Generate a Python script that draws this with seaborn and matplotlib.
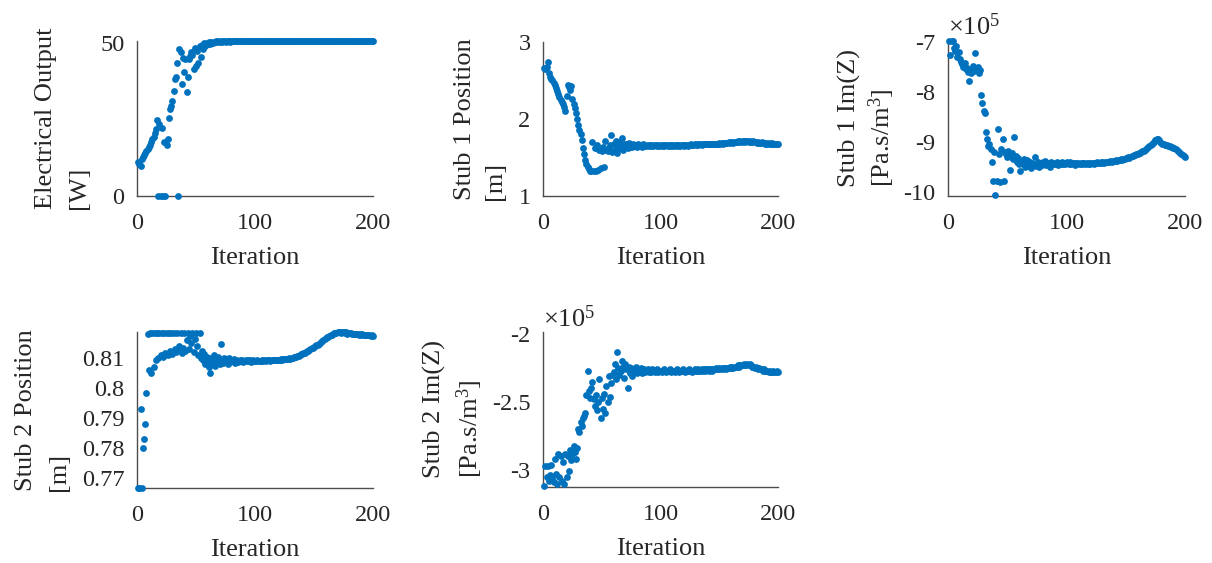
import matplotlib
matplotlib.use('Agg')
import matplotlib.pyplot as plt
import seaborn as sns

# iteration index and the five traces
iteration = list(range(1, 201))

electrical_output_w = [
    11.0, 10.5, 9.8, 12.0, 12.8, 13.4, 14.0, 14.6, 15.3, 16.0,
    16.8, 17.6, 18.5, 19.4, 20.5, 21.8, 25.0, 0.0, 23.4, 0.0,
    22.2, 0.0, 17.8, 0.0, 16.6, 18.6, 25.6, 28.3, 29.5, 31.0,
    34.3, 38.2, 38.8, 43.6, 0.0, 48.0, 47.0, 36.5, 45.0, 40.4,
    44.7, 34.0, 38.8, 44.7, 45.8, 47.0, 46.2, 41.4, 48.5, 42.5,
    47.5, 43.6, 49.0, 45.5, 49.5, 48.0, 50.0, 49.2, 50.2, 49.6,
    50.3, 49.8, 50.4, 50.1, 50.5, 50.3, 50.6, 50.4, 50.6, 50.5,
    50.6, 50.5, 50.6, 50.6, 50.5, 50.6, 50.6, 50.6, 50.5, 50.6,
    50.6, 50.6, 50.6, 50.6, 50.6, 50.6, 50.6, 50.6, 50.6, 50.6,
    50.6, 50.6, 50.6, 50.6, 50.6, 50.6, 50.6, 50.6, 50.6, 50.6,
    50.6, 50.6, 50.6, 50.6, 50.6, 50.6, 50.6, 50.6, 50.6, 50.6,
    50.6, 50.6, 50.6, 50.6, 50.6, 50.6, 50.6, 50.6, 50.6, 50.6,
    50.6, 50.6, 50.6, 50.6, 50.6, 50.6, 50.6, 50.6, 50.6, 50.6,
    50.6, 50.6, 50.6, 50.6, 50.6, 50.6, 50.6, 50.6, 50.6, 50.6,
    50.6, 50.6, 50.6, 50.6, 50.6, 50.6, 50.6, 50.6, 50.6, 50.6,
    50.6, 50.6, 50.6, 50.6, 50.6, 50.6, 50.6, 50.6, 50.6, 50.6,
    50.6, 50.6, 50.6, 50.6, 50.6, 50.6, 50.6, 50.6, 50.6, 50.6,
    50.6, 50.6, 50.6, 50.6, 50.6, 50.6, 50.6, 50.6, 50.6, 50.6,
    50.6, 50.6, 50.6, 50.6, 50.6, 50.6, 50.6, 50.6, 50.6, 50.6,
    50.6, 50.6, 50.6, 50.6, 50.6, 50.6, 50.6, 50.6, 50.6, 50.6,
]

stub1_position_m = [
    2.66, 2.65, 2.67, 2.74, 2.60, 2.55, 2.52, 2.50, 2.47, 2.44,
    2.40, 2.36, 2.32, 2.28, 2.25, 2.22, 2.20, 2.16, 2.10, 2.30,
    2.44, 2.41, 2.38, 2.43, 2.26, 2.20, 2.14, 2.08, 2.00, 1.92,
    1.86, 1.80, 1.73, 1.62, 1.55, 1.47, 1.42, 1.38, 1.35, 1.33,
    1.32, 1.70, 1.33, 1.62, 1.32, 1.66, 1.34, 1.60, 1.36, 1.58,
    1.64, 1.38, 1.72, 1.60, 1.58, 1.62, 1.66, 1.79, 1.57, 1.68,
    1.60, 1.72, 1.56, 1.65, 1.70, 1.62, 1.75, 1.60, 1.68, 1.63,
    1.67, 1.62, 1.69, 1.64, 1.66, 1.63, 1.68, 1.65, 1.66, 1.64,
    1.67, 1.65, 1.66, 1.64, 1.67, 1.65, 1.66, 1.65, 1.66, 1.65,
    1.66, 1.65, 1.66, 1.65, 1.66, 1.66, 1.65, 1.66, 1.65, 1.66,
    1.65, 1.66, 1.65, 1.66, 1.66, 1.65, 1.66, 1.65, 1.66, 1.65,
    1.66, 1.65, 1.66, 1.66, 1.65, 1.66, 1.65, 1.66, 1.66, 1.65,
    1.66, 1.66, 1.65, 1.66, 1.66, 1.67, 1.66, 1.66, 1.67, 1.66,
    1.67, 1.66, 1.67, 1.67, 1.66, 1.67, 1.67, 1.67, 1.68, 1.67,
    1.67, 1.68, 1.67, 1.68, 1.68, 1.67, 1.68, 1.68, 1.68, 1.69,
    1.68, 1.69, 1.68, 1.69, 1.69, 1.69, 1.69, 1.70, 1.69, 1.70,
    1.70, 1.69, 1.70, 1.70, 1.70, 1.71, 1.70, 1.71, 1.70, 1.71,
    1.71, 1.70, 1.71, 1.71, 1.70, 1.71, 1.70, 1.70, 1.71, 1.70,
    1.70, 1.69, 1.70, 1.69, 1.69, 1.70, 1.69, 1.69, 1.68, 1.69,
    1.68, 1.69, 1.68, 1.68, 1.69, 1.68, 1.68, 1.67, 1.68, 1.68,
]

# Im(Z) values in units of 1e5 Pa.s/m^3
stub1_imz_e5 = [
    -6.98, -7.26, -6.98, -6.99, -7.12, -7.18, -7.08, -7.30, -7.20, -7.35,
    -7.40, -7.45, -7.50, -7.42, -7.55, -7.52, -7.60, -7.79, -7.62, -7.55,
    -7.48, -7.58, -7.22, -7.55, -7.50, -7.62, -7.56, -8.07, -8.22, -8.38,
    -8.42, -8.80, -8.95, -9.08, -9.05, -9.15, -9.40, -9.78, -9.20, -10.06,
    -9.78, -8.74, -9.25, -9.80, -9.15, -8.94, -9.78, -9.20, -9.25, -9.30,
    -9.18, -9.56, -9.30, -9.22, -9.35, -8.90, -9.28, -9.40, -9.32, -9.45,
    -9.58, -9.38, -9.45, -9.35, -9.50, -9.42, -9.36, -9.48, -9.40, -9.52,
    -9.42, -9.46, -9.30, -9.48, -9.44, -9.40, -9.50, -9.43, -9.46, -9.41,
    -9.45, -9.38, -9.47, -9.42, -9.44, -9.50, -9.40, -9.45, -9.42, -9.44,
    -9.44, -9.41, -9.46, -9.42, -9.45, -9.40, -9.44, -9.42, -9.45, -9.41,
    -9.43, -9.44, -9.41, -9.45, -9.42, -9.43, -9.46, -9.42, -9.44, -9.43,
    -9.44, -9.42, -9.45, -9.43, -9.42, -9.44, -9.43, -9.45, -9.42, -9.44,
    -9.43, -9.42, -9.44, -9.42, -9.43, -9.41, -9.43, -9.42, -9.41, -9.42,
    -9.41, -9.42, -9.40, -9.41, -9.40, -9.41, -9.39, -9.40, -9.38, -9.39,
    -9.38, -9.37, -9.38, -9.36, -9.37, -9.35, -9.36, -9.34, -9.35, -9.33,
    -9.33, -9.31, -9.32, -9.30, -9.29, -9.28, -9.27, -9.26, -9.25, -9.24,
    -9.23, -9.22, -9.20, -9.19, -9.18, -9.16, -9.14, -9.13, -9.11, -9.08,
    -9.07, -9.05, -9.02, -9.00, -8.97, -8.95, -8.94, -8.97, -9.00, -9.03,
    -9.05, -9.04, -9.06, -9.07, -9.06, -9.08, -9.09, -9.10, -9.11, -9.12,
    -9.13, -9.15, -9.16, -9.18, -9.20, -9.22, -9.24, -9.26, -9.28, -9.30,
]

stub2_position_m = [
    0.7667, 0.7667, 0.7930, 0.7667, 0.7800, 0.7830, 0.7880, 0.7983, 0.8180, 0.8060,
    0.8184, 0.8050, 0.8184, 0.8070, 0.8184, 0.8095, 0.8184, 0.8100, 0.8184, 0.8110,
    0.8184, 0.8105, 0.8184, 0.8118, 0.8184, 0.8110, 0.8184, 0.8125, 0.8184, 0.8115,
    0.8184, 0.8130, 0.8120, 0.8184, 0.8128, 0.8140, 0.8184, 0.8118, 0.8135, 0.8184,
    0.8125, 0.8160, 0.8184, 0.8130, 0.8175, 0.8150, 0.8184, 0.8120, 0.8165, 0.8184,
    0.8140, 0.8110, 0.8184, 0.8100, 0.8125, 0.8095, 0.8115, 0.8080, 0.8105, 0.8090,
    0.8070, 0.8052, 0.8100, 0.8085, 0.8110, 0.8075, 0.8098, 0.8088, 0.8105, 0.8080,
    0.8147, 0.8095, 0.8085, 0.8102, 0.8090, 0.8096, 0.8082, 0.8100, 0.8088, 0.8094,
    0.8090, 0.8098, 0.8084, 0.8095, 0.8092, 0.8088, 0.8096, 0.8090, 0.8093, 0.8087,
    0.8092, 0.8095, 0.8090, 0.8094, 0.8091, 0.8093, 0.8089, 0.8094, 0.8091, 0.8092,
    0.8090, 0.8093, 0.8091, 0.8092, 0.8090, 0.8094, 0.8091, 0.8093, 0.8092, 0.8094,
    0.8093, 0.8095, 0.8092, 0.8094, 0.8096, 0.8093, 0.8095, 0.8094, 0.8096, 0.8095,
    0.8096, 0.8097, 0.8095, 0.8097, 0.8098, 0.8097, 0.8099, 0.8098, 0.8100, 0.8099,
    0.8101, 0.8102, 0.8103, 0.8104, 0.8106, 0.8107, 0.8109, 0.8111, 0.8113, 0.8115,
    0.8117, 0.8119, 0.8121, 0.8124, 0.8126, 0.8128, 0.8131, 0.8133, 0.8136, 0.8139,
    0.8141, 0.8143, 0.8146, 0.8149, 0.8152, 0.8155, 0.8158, 0.8161, 0.8164, 0.8167,
    0.8170, 0.8172, 0.8175, 0.8177, 0.8179, 0.8181, 0.8183, 0.8185, 0.8186, 0.8187,
    0.8187, 0.8187, 0.8186, 0.8187, 0.8187, 0.8186, 0.8187, 0.8180, 0.8186, 0.8185,
    0.8183, 0.8182, 0.8181, 0.8182, 0.8180, 0.8181, 0.8180, 0.8179, 0.8180, 0.8179,
    0.8180, 0.8178, 0.8179, 0.8178, 0.8177, 0.8178, 0.8177, 0.8176, 0.8177, 0.8176,
]

stub2_imz_e5 = [
    -3.12, -2.97, -3.05, -2.97, -3.08, -3.04, -2.96, -3.06, -3.09, -2.92,
    -3.03, -3.10, -2.88, -3.05, -2.90, -3.08, -2.94, -3.10, -2.88, -3.05,
    -2.90, -3.01, -2.85, -2.93, -2.88, -2.82, -2.87, -2.92, -2.84, -2.70,
    -2.72, -2.65, -2.68, -2.62, -2.60, -2.58, -2.45, -2.27, -2.42, -2.47,
    -2.40, -2.35, -2.48, -2.53, -2.45, -2.56, -2.50, -2.33, -2.62, -2.47,
    -2.55, -2.44, -2.58, -2.38, -2.50, -2.31, -2.46, -2.36, -2.30, -2.28,
    -2.22, -2.33, -2.13, -2.25, -2.30, -2.27, -2.20, -2.24, -2.32, -2.22,
    -2.26, -2.40, -2.24, -2.29, -2.25, -2.31, -2.26, -2.28, -2.24, -2.29,
    -2.26, -2.28, -2.25, -2.29, -2.27, -2.26, -2.28, -2.27, -2.26, -2.28,
    -2.27, -2.28, -2.26, -2.27, -2.28, -2.27, -2.26, -2.28, -2.27, -2.27,
    -2.28, -2.27, -2.26, -2.27, -2.28, -2.27, -2.27, -2.26, -2.28, -2.27,
    -2.27, -2.28, -2.27, -2.26, -2.27, -2.28, -2.27, -2.27, -2.26, -2.27,
    -2.28, -2.27, -2.27, -2.26, -2.27, -2.27, -2.28, -2.27, -2.26, -2.27,
    -2.27, -2.26, -2.27, -2.27, -2.26, -2.27, -2.26, -2.27, -2.26, -2.26,
    -2.27, -2.26, -2.26, -2.27, -2.26, -2.26, -2.25, -2.26, -2.26, -2.25,
    -2.26, -2.25, -2.26, -2.25, -2.25, -2.26, -2.25, -2.25, -2.24, -2.25,
    -2.24, -2.25, -2.24, -2.24, -2.24, -2.23, -2.24, -2.23, -2.23, -2.23,
    -2.22, -2.23, -2.23, -2.22, -2.23, -2.22, -2.23, -2.24, -2.24, -2.25,
    -2.24, -2.25, -2.26, -2.25, -2.26, -2.26, -2.27, -2.26, -2.27, -2.27,
    -2.27, -2.28, -2.27, -2.28, -2.28, -2.27, -2.28, -2.28, -2.27, -2.28,
]

sns.set_style('white')
plt.rcParams['font.family'] = ['Liberation Serif', 'DejaVu Serif']
plt.rcParams['mathtext.fontset'] = 'custom'
plt.rcParams['mathtext.rm'] = 'Liberation Serif'
plt.rcParams['mathtext.it'] = 'Liberation Serif:italic'
plt.rcParams['axes.unicode_minus'] = False

W, H = 1212, 563
blue = '#0072BD'
ink = '#262626'

# (values, ylabel, pixel box left/top/right/bottom, ylim, yticks, ytick labels,
#  exponent, ylabel x in axes fraction, line spacing)
panels = [
    (electrical_output_w, 'Electrical Output\n[W]', (137, 41, 373, 196),
     (0, 50.7), [0, 50], ['0', '50'], False, -0.199, 1.65),
    (stub1_position_m, 'Stub 1 Position\n[m]', (543, 42, 778, 196),
     (1, 3), [1, 2, 3], ['1', '2', '3'], False, -0.157, 1.5),
    (stub1_imz_e5, 'Stub 1 Im(Z)\n[Pa.s/m$^3$]', (948, 40, 1185, 196),
     (-10.08, -6.97), [-10, -9, -8, -7], ['-10', '-9', '-8', '-7'], True,
     -0.215, 1.25),
    (stub2_position_m, 'Stub 2 Position\n[m]', (137, 332, 373, 488),
     (0.7667, 0.8188), [0.77, 0.78, 0.79, 0.80, 0.81],
     ['0.77', '0.78', '0.79', '0.8', '0.81'], False, -0.284, 1.65),
    (stub2_imz_e5, 'Stub 2 Im(Z)\n[Pa.s/m$^3$]', (543, 332, 778, 487),
     (-3.125, -1.985), [-3, -2.5, -2], ['-3', '-2.5', '-2'], True,
     -0.248, 1.35),
]

fig = plt.figure(figsize=(W / 100, H / 100), dpi=100)

for values, ylabel, box, ylim, yticks, yticklabels, exponent, label_x, spacing in panels:
    l, t, r, b = box
    ax = fig.add_axes([l / W, 1 - b / H, (r - l) / W, (b - t) / H])
    sns.scatterplot(x=iteration, y=values, ax=ax, color=blue, s=24,
                    linewidth=0, clip_on=False, zorder=3)
    ax.set_xlim(0, 200)
    ax.set_ylim(*ylim)
    ax.set_xticks([0, 100, 200])
    ax.set_xticklabels(['0', '100', '200'])
    ax.set_yticks(yticks)
    ax.set_yticklabels(yticklabels)
    ax.tick_params(direction='in', length=0, colors=ink, labelsize=17.5)
    ax.tick_params(axis='x', pad=12.5)
    ax.tick_params(axis='y', pad=9)
    for side in ['top', 'right']:
        ax.spines[side].set_visible(False)
    for side in ['left', 'bottom']:
        ax.spines[side].set_color('#4d4d4d')
        ax.spines[side].set_linewidth(1.0)
    ax.set_xlabel('Iteration', fontsize=19, color=ink, labelpad=9)
    ax.set_ylabel(ylabel, fontsize=19, color=ink,
                  multialignment='left', linespacing=spacing)
    ax.yaxis.set_label_coords(label_x, 0.5)
    if exponent:
        ax.text(0.0, 1.0, r'$\times10^{5}$', transform=ax.transAxes,
                ha='left', va='bottom', fontsize=19, color=ink)

fig.savefig('out.png', dpi=100, facecolor='white')
